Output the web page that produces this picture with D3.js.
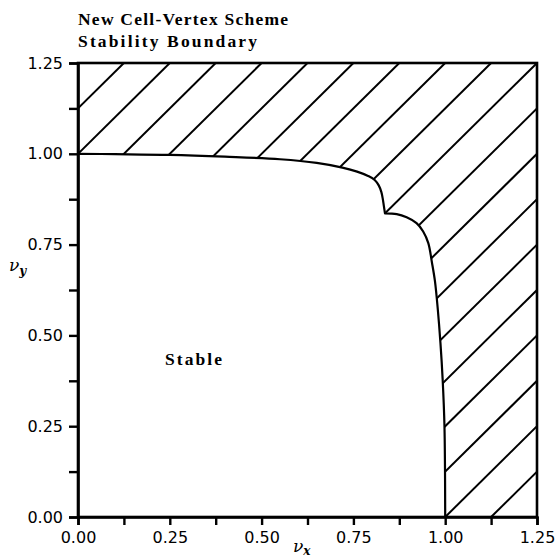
<!DOCTYPE html>
<html>
<head>
<meta charset="utf-8">
<script src="https://cdn.jsdelivr.net/npm/d3@7"></script>
<style>
  html, body { margin: 0; padding: 0; background: #fff; }
  svg { display: block; }
</style>
</head>
<body>
<svg id="chart" width="555" height="560"></svg>
<script>
// Stability boundary of the cell-vertex scheme in the (nu_x, nu_y) plane.
// Upper branch: from the nu_y axis to the cusp.
const upperNuX = [0.000, 0.100, 0.250, 0.400, 0.550, 0.650, 0.720, 0.760, 0.790, 0.808, 0.819, 0.826, 0.830, 0.833, 0.836];
const upperNuY = [1.000, 0.999, 0.997, 0.992, 0.985, 0.975, 0.962, 0.951, 0.939, 0.928, 0.913, 0.895, 0.876, 0.856, 0.836];
// Lower branch: from the cusp down to the nu_x axis.
const lowerNuX = [0.836, 0.868, 0.895, 0.922, 0.940, 0.954, 0.964, 0.972, 0.980, 0.987, 0.993, 0.998, 1.000];
const lowerNuY = [0.836, 0.834, 0.825, 0.809, 0.786, 0.754, 0.700, 0.650, 0.570, 0.480, 0.380, 0.250, 0.000];

// Axis ticks (minor every 0.125, labelled every 0.25)
const tickValues = [0, 0.125, 0.25, 0.375, 0.5, 0.625, 0.75, 0.875, 1, 1.125, 1.25];
const labelledTicks = [0, 0.25, 0.5, 0.75, 1, 1.25];
// Hatch lines nu_x - nu_y = c
const hatchOffsets = [-1.125, -1, -0.875, -0.75, -0.625, -0.5, -0.375, -0.25, -0.125, 0,
                      0.125, 0.25, 0.375, 0.5, 0.625, 0.75, 0.875, 1, 1.125];

const titleLines = ["New Cell-Vertex Scheme", "Stability Boundary"];
const regionLabel = "Stable";

const svg = d3.select("#chart");
const plotLeft = 78, plotRight = 537, plotTop = 63, plotBottom = 517;

const x = d3.scaleLinear().domain([0, 1.25]).range([plotLeft, plotRight]);
const y = d3.scaleLinear().domain([0, 1.25]).range([plotBottom, plotTop]);

const upper = upperNuX.map((v, i) => [v, upperNuY[i]]);
const lower = lowerNuX.map((v, i) => [v, lowerNuY[i]]);

const line = d3.line().x(d => x(d[0])).y(d => y(d[1])).curve(d3.curveCatmullRom.alpha(0.5));
const boundaryPath = line(upper) + line(lower).replace(/^M/, "L");

// Unstable region: between the boundary and the outer frame
const unstablePath = boundaryPath +
  `L${x(1.25)},${y(0)}L${x(1.25)},${y(1.25)}L${x(0)},${y(1.25)}Z`;

svg.append("defs").append("clipPath").attr("id", "unstable")
  .append("path").attr("d", unstablePath);

// Hatching
svg.append("g").attr("clip-path", "url(#unstable)")
  .selectAll("line").data(hatchOffsets).join("line")
  .attr("x1", c => x(Math.max(0, c)))
  .attr("y1", c => y(Math.max(0, c) - c))
  .attr("x2", c => x(Math.min(1.25, 1.25 + c)))
  .attr("y2", c => y(Math.min(1.25, 1.25 + c) - c))
  .attr("stroke", "#000").attr("stroke-width", 2);

// Boundary curve
svg.append("path").attr("d", boundaryPath)
  .attr("fill", "none").attr("stroke", "#000").attr("stroke-width", 2.2)
  .attr("stroke-linejoin", "round");

// Frame
svg.append("rect")
  .attr("x", x(0)).attr("y", y(1.25))
  .attr("width", x(1.25) - x(0)).attr("height", y(0) - y(1.25))
  .attr("fill", "none").attr("stroke", "#000").attr("stroke-width", 2.6);

const fmt = d3.format(".2f");
const tickFmt = d => labelledTicks.includes(d) ? fmt(d) : "";

const xAxis = svg.append("g").attr("transform", `translate(0,${plotBottom})`)
  .call(d3.axisBottom(x).tickValues(tickValues).tickFormat(tickFmt).tickSize(8).tickPadding(7));
const yAxis = svg.append("g").attr("transform", `translate(${plotLeft},0)`)
  .call(d3.axisLeft(y).tickValues(tickValues).tickFormat(tickFmt).tickSize(9).tickPadding(6));

[xAxis, yAxis].forEach(g => {
  g.select(".domain").attr("stroke-width", 2.6);
  g.selectAll(".tick line").attr("stroke-width", 2.4);
  g.selectAll(".tick text")
    .attr("font-family", "DejaVu Sans").attr("font-size", 16).attr("fill", "#000");
});

// Titles
const titleY = [25, 47];
const titleW = [210, 179];
titleLines.forEach((t, i) => {
  svg.append("text").attr("x", plotLeft).attr("y", titleY[i])
    .attr("font-family", "Liberation Serif").attr("font-weight", "bold").attr("font-size", 17.5)
    .attr("textLength", titleW[i]).attr("lengthAdjust", "spacing")
    .text(t);
});

// Region label
svg.append("text").attr("x", 165).attr("y", 365)
  .attr("font-family", "Liberation Serif").attr("font-weight", "bold").attr("font-size", 17.5)
  .attr("textLength", 57).attr("lengthAdjust", "spacing")
  .text(regionLabel);

// Axis titles
const yLab = svg.append("text").attr("x", 9).attr("y", 271)
  .attr("font-family", "DejaVu Serif").attr("font-style", "italic").attr("font-size", 17);
yLab.append("tspan").text("ν");
yLab.append("tspan").attr("font-size", 12).attr("dy", 4).attr("font-weight", "bold").text("y");

const xLab = svg.append("text").attr("x", 293).attr("y", 552)
  .attr("font-family", "DejaVu Serif").attr("font-style", "italic").attr("font-size", 17);
xLab.append("tspan").text("ν");
xLab.append("tspan").attr("font-size", 12).attr("dy", 3).attr("font-weight", "bold").text("x");
</script>
</body>
</html>
